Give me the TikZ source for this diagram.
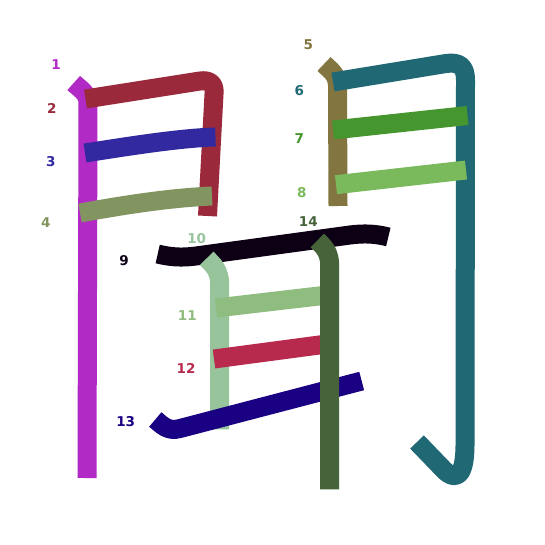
\documentclass[tikz,border=0pt]{standalone}
\usepackage{fontspec}
\setmainfont{DejaVu Sans}
\definecolor{c1}{HTML}{B22AC6}
\definecolor{c2}{HTML}{9A2A3B}
\definecolor{c3}{HTML}{3229A0}
\definecolor{c4}{HTML}{829560}
\definecolor{c5}{HTML}{827540}
\definecolor{c6}{HTML}{1F6874}
\definecolor{c7}{HTML}{45962F}
\definecolor{c8}{HTML}{7ABA5D}
\definecolor{c9}{HTML}{0D0015}
\definecolor{c10}{HTML}{97C49B}
\definecolor{c11}{HTML}{8FBC7F}
\definecolor{c12}{HTML}{B72A4D}
\definecolor{c13}{HTML}{1A0082}
\definecolor{c14}{HTML}{466339}
\tikzset{
  strokeline/.style={line width=19, line cap=butt, line join=round},
  num/.style={font=\fontsize{13.5}{16}\selectfont\bfseries, inner sep=0pt, anchor=center}
}
\begin{document}
\begin{tikzpicture}[x=1pt,y=-1pt]
\useasboundingbox (0,0) rectangle (545,545);
\fill[white] (0,0) rectangle (545,545);
% stroke 1
\draw[strokeline,c1] (73.7,83) .. controls (80,89) and (88,93) .. (88,103) -- (87,478);
% stroke 2
\draw[strokeline,c2] (85.5,99) -- (200,81) .. controls (210,79.5) and (215,84) .. (214,94) -- (207.5,216);
% stroke 3
\draw[strokeline,c3] (85,153) .. controls (130,146) and (180,138) .. (215.5,137);
% stroke 4
\draw[strokeline,c4] (80,213) .. controls (130,204) and (170,198) .. (212,196);
% stroke 5
\draw[strokeline,c5] (324,64) .. controls (330,70) and (337,74) .. (337.5,85) -- (338,206);
% stroke 6
\draw[strokeline,c6] (333,82) -- (446,63.5) .. controls (460,61.5) and (465.5,67) .. (465.5,80) -- (465,445) .. controls (465,478) and (455,481) .. (444,470) -- (417,442);
% stroke 7
\draw[strokeline,c7] (333,130) -- (467.5,115.5);
% stroke 8
\draw[strokeline,c8] (336,184.7) -- (466,170);
% stroke 9
\draw[strokeline,c9] (157.7,254) .. controls (170,257) and (181,258) .. (196,256) -- (350,235) .. controls (365,233) and (377,234) .. (388.3,237);
% stroke 10
\draw[strokeline,c10] (206.7,258.3) .. controls (213,265) and (219.7,270) .. (219.7,285) -- (219.7,429.3);
% stroke 11
\draw[strokeline,c11] (216,308) -- (323,295.5);
% stroke 12
\draw[strokeline,c12] (214,359) -- (323,344.5);
% stroke 13
\draw[strokeline,c13] (155.3,419.5) .. controls (162,425) and (168,432) .. (180,428.5) -- (361.7,381);
% stroke 14
\draw[strokeline,c14] (317.3,240.5) .. controls (324,247) and (329.7,252) .. (329.7,266) -- (329.7,489.3);
% labels
\node[num,text=c1] (n1) at (56,64.3) {1};
\node[num,text=c2] (n2) at (51.7,108.3) {2};
\node[num,text=c3] (n3) at (50.7,161.7) {3};
\node[num,text=c4] (n4) at (45.7,222.3) {4};
\node[num,text=c5] (n5) at (308.3,45) {5};
\node[num,text=c6] (n6) at (299.3,91) {6};
\node[num,text=c7] (n7) at (299.3,138.3) {7};
\node[num,text=c8] (n8) at (301.7,192.7) {8};
\node[num,text=c9] (n9) at (124,260.7) {9};
\node[num,text=c10] (n10) at (196.7,239) {10};
\node[num,text=c11] (n11) at (187.3,316) {11};
\node[num,text=c12] (n12) at (186,368.3) {12};
\node[num,text=c13] (n13) at (125.7,421.7) {13};
\node[num,text=c14] (n14) at (308.3,221.7) {14};
\end{tikzpicture}
\end{document}
